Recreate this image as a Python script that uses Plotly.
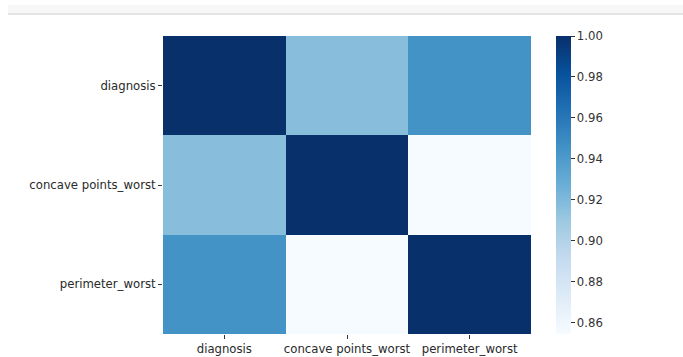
import plotly.graph_objects as go

labels = ["diagnosis", "concave points_worst", "perimeter_worst"]
corr = [
    [1.000, 0.917, 0.945],
    [0.917, 1.000, 0.855],
    [0.945, 0.855, 1.000],
]
cbar_ticks = [0.86, 0.88, 0.90, 0.92, 0.94, 0.96, 0.98, 1.00]

FS = 11.7

fig = go.Figure(go.Heatmap(
    z=corr, x=labels, y=labels,
    colorscale="Blues",
    zmin=0.8545, zmax=1.0,
    xgap=0, ygap=0,
    colorbar=dict(
        x=393/368, xanchor="left", xref="paper", xpad=0, ypad=0,
        y=0.5, yanchor="middle", len=1.0, lenmode="fraction",
        thickness=15, thicknessmode="pixels",
        outlinewidth=0,
        tickvals=cbar_ticks, ticktext=[f"{v:.2f}" for v in cbar_ticks],
        ticks="outside", ticklen=4, tickcolor="#333",
        tickfont=dict(family="DejaVu Sans", size=FS, color="#333"),
    ),
))

fig.update_layout(
    width=683, height=357,
    margin=dict(l=163, r=152, t=36, b=23, autoexpand=False),
    paper_bgcolor="white", plot_bgcolor="white",
    font=dict(family="DejaVu Sans", size=FS, color="#2a2a2a"),
    xaxis=dict(showgrid=False, zeroline=False, ticks="outside", ticklen=4,
               tickcolor="#333", tickfont=dict(size=FS), side="bottom",
               showline=False, automargin=False),
    yaxis=dict(showgrid=False, zeroline=False, ticks="outside", ticklen=4,
               tickcolor="#333", autorange="reversed", tickfont=dict(size=FS),
               showline=False, automargin=False),
    shapes=[
        dict(type="rect", xref="paper", yref="paper",
             x0=-155/368, x1=520/368, y0=1 + 22/298, y1=1 + 31/298,
             fillcolor="#f7f7f7", line=dict(width=0), layer="below"),
        dict(type="line", xref="paper", yref="paper",
             x0=-155/368, x1=520/368, y0=1 + 22/298, y1=1 + 22/298,
             line=dict(color="#dddddd", width=1.5)),
    ],
)

fig.write_html("out.html")
